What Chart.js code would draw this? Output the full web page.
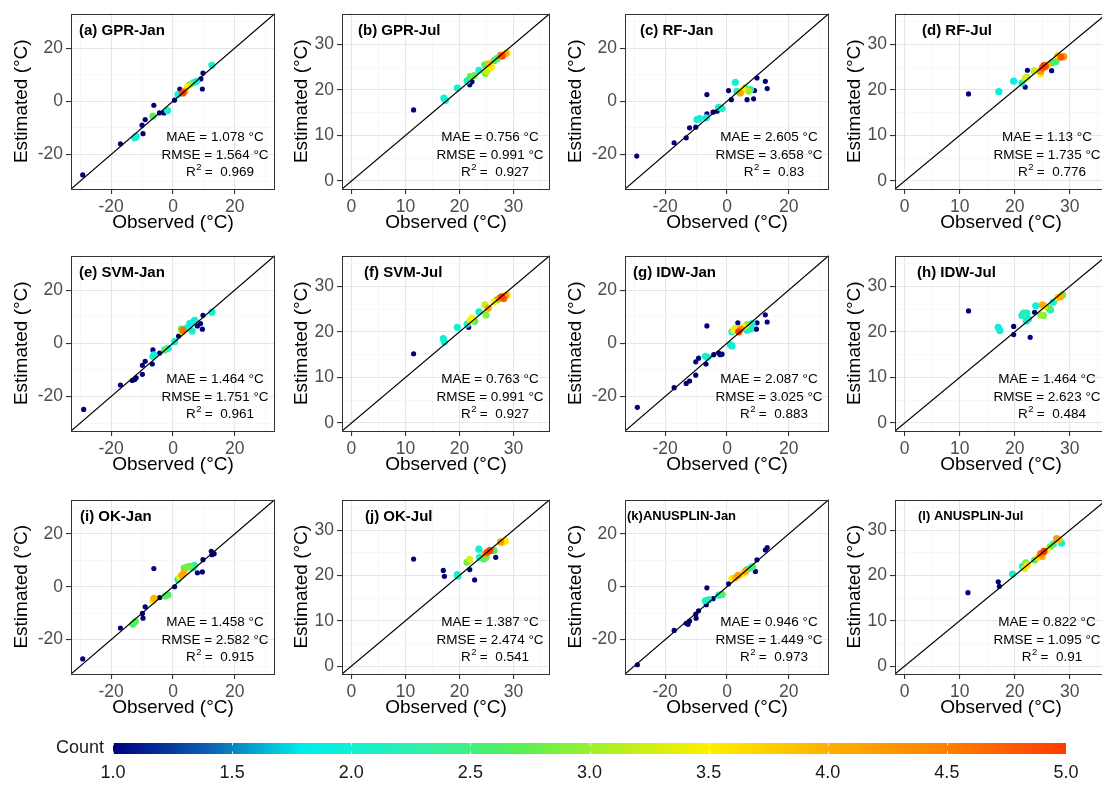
<!DOCTYPE html>
<html><head><meta charset="utf-8">
<script src="https://cdn.jsdelivr.net/npm/chart.js@4.4.1/dist/chart.umd.min.js"></script>
<style>
html,body{margin:0;padding:0;background:#fff;width:1102px;height:785px;overflow:hidden;position:relative;}
canvas{position:absolute;}
</style></head><body>
<script>
// ---------------- DATA ----------------
const panelTitles = ['(a) GPR-Jan','(b) GPR-Jul','(c) RF-Jan','(d) RF-Jul','(e) SVM-Jan','(f) SVM-Jul','(g) IDW-Jan','(h) IDW-Jul','(i) OK-Jan','(j) OK-Jul','(k)ANUSPLIN-Jan','(l) ANUSPLIN-Jul'];
const panelMonths = ['Jan','Jul','Jan','Jul','Jan','Jul','Jan','Jul','Jan','Jul','Jan','Jul'];
const maeValues  = ['1.078','0.756','2.605','1.13','1.464','0.763','2.087','1.464','1.458','1.387','0.946','0.822'];
const rmseValues = ['1.564','0.991','3.658','1.735','1.751','0.991','3.025','2.623','2.582','2.474','1.449','1.095'];
const r2Values   = ['0.969','0.927','0.83','0.776','0.961','0.927','0.883','0.484','0.915','0.541','0.973','0.91'];

const janLimits = [-33, 33];
const janMajorTicks = [-20, 0, 20];
const janMinorTicks = [-30, -10, 10, 30];
const julLimits = [-1.75, 36.75];
const julMajorTicks = [0, 10, 20, 30];
const julMinorTicks = [5, 15, 25, 35];

const countTicks = [1.0, 1.5, 2.0, 2.5, 3.0, 3.5, 4.0, 4.5, 5.0];
const countStops = [1.0, 1.4, 1.8, 2.3, 2.7, 3.1, 3.5, 4.0, 4.5, 5.0];
const countColors = ['#00007F','#0A5FB4','#00EEEE','#2EF0A8','#55F055','#B2F020','#FFEE00','#FFB000','#FF8000','#FF3A00'];

// (a) GPR-Jan
const gprJanObs = [-29.2,-17.0,-12.4,-11.9,-9.7,-10.0,-9.0,-6.2,-6.5,-4.4,-2.9,-1.8,0.5,1.6,2.2,3.2,3.8,4.6,5.4,6.5,7.6,9.0,9.7,9.5,12.6];
const gprJanEst = [-27.7,-16.0,-13.7,-13.2,-12.2,-9.0,-6.9,-1.5,-5.6,-4.4,-4.4,-3.5,0.4,2.5,4.6,3.1,3.75,5.25,6.25,6.9,7.5,8.4,10.6,4.6,13.5];
const gprJanCnt = [1,1,2.0,1.9,1,1,1,1,2.7,1,1,2.0,1,2.1,1,5.0,4.2,3.5,3.0,2.1,1.9,1,1,1,2.0];
// (b) GPR-Jul
const gprJulObs = [11.5,17.1,17.4,19.6,21.4,21.9,22.3,22.0,22.7,23.6,24.7,24.8,25.1,25.4,25.9,26.4,27.0,27.6,27.9,28.5,28.8];
const gprJulEst = [15.6,18.2,17.7,20.4,22.0,21.1,21.8,22.9,23.1,24.3,25.5,23.6,24.1,25.7,25.0,26.4,26.9,27.6,27.4,27.9,28.1];
const gprJulCnt = [1,2.0,1.9,2.0,2.1,1,1,2.7,2.8,2.0,2.7,2.9,3.2,3.9,3.5,2.7,2.6,4.3,4.9,4.1,3.6];
// (c) RF-Jan
const rfJanObs = [-29.2,-17.1,-13.2,-12.1,-10.1,-9.7,-8.9,-6.7,-6.5,-6.5,-4.5,-3.2,-2.7,-1.6,0.5,1.4,2.7,3.2,4.3,5.2,5.9,6.5,7.0,7.6,8.6,8.9,9.7,12.4,13.0];
const rfJanEst = [-20.6,-15.6,-13.75,-10.0,-9.75,-6.9,-6.5,-6.25,2.5,-4.75,-4.1,-3.75,-2.25,-2.75,4.0,0.6,7.1,3.75,3.1,4.4,5.0,0.6,3.75,4.4,0.9,4.0,8.75,7.5,4.75];
const rfJanCnt = [1,1,1,1,1,1.9,2.0,2.0,1,1,1,1,2.0,2.1,1,1,2.0,2.1,4.1,3.5,2.7,1,3.0,2.2,1,1,1,1,1];
// (d) RF-Jul
const rfJulObs = [11.6,17.1,19.8,21.3,21.9,22.2,21.9,22.3,23.5,24.7,24.7,25.0,25.3,25.6,25.9,26.7,26.7,27.5,27.8,28.4,28.9];
const rfJulEst = [19.1,19.6,21.9,21.5,22.5,22.8,20.6,24.3,24.2,23.5,24.1,24.8,25.3,25.1,25.5,25.9,24.2,26.2,27.5,27.2,27.3];
const rfJulCnt = [1,1.9,1.9,2.0,3.3,3.1,1,1,3.2,3.5,4.3,4.8,5.0,4.7,4.0,2.7,1,2.6,3.7,4.8,4.2];
// (e) SVM-Jan
const svmJanObs = [-28.9,-17.0,-13.2,-12.4,-11.9,-9.9,-9.9,-9.0,-6.5,-6.5,-6.2,-6.7,-4.3,-2.7,-1.6,0.5,1.8,2.7,3.2,3.0,4.3,5.4,6.5,7.0,6.2,7.9,8.9,9.5,9.7,12.6];
const svmJanEst = [-24.9,-15.7,-14.0,-13.6,-13.0,-11.7,-8.3,-6.8,-2.5,-4.9,-4.4,-7.8,-3.7,-2.5,-1.9,0.6,2.7,5.3,4.9,4.4,5.6,7.4,8.0,8.6,4.6,6.5,7.4,5.3,10.5,11.7];
const svmJanCnt = [1,1,1,1,1,1,1,1,1,2.0,1.9,1,1,2.6,2.0,2.0,1,2.8,4.6,3.4,2.0,1.9,2.0,1.9,2.0,1,1,1,1,2.0];
// (f) SVM-Jul
const svmJulObs = [11.5,17.0,17.2,19.6,21.4,21.7,22.0,22.3,22.8,23.6,24.7,24.9,25.3,26.4,26.9,27.3,27.8,28.2,28.5,28.8];
const svmJulEst = [15.2,18.5,17.8,21.0,21.7,21.0,22.6,23.0,22.3,24.4,25.9,23.7,25.2,26.6,27.0,27.3,27.7,27.3,27.9,28.1];
const svmJulCnt = [1,2.0,1.9,2.0,2.1,1,3.4,3.5,2.7,2.0,3.2,2.9,4.1,3.5,2.7,4.3,5.0,4.7,4.2,3.6];
// (g) IDW-Jan
const idwJanObs = [-29.0,-17.1,-13.2,-12.1,-10.1,-10.1,-9.2,-6.8,-6.5,-7.0,-6.3,-4.3,-2.7,-2.2,-1.6,1.1,1.6,1.6,2.2,2.7,3.5,3.8,4.5,5.4,6.5,6.5,7.6,8.1,9.5,9.7,12.4,13.0];
const idwJanEst = [-24.1,-16.7,-15.1,-14.2,-12.0,-7.0,-5.6,-7.8,6.5,-4.9,-5.3,-4.3,-3.7,-4.3,-4.1,-0.6,-1.0,4.3,4.9,5.6,7.7,4.3,5.3,6.2,7.0,4.9,5.3,7.4,5.3,7.7,10.7,8.0];
const idwJanCnt = [1,1,1,1,1,1,1,1,1,2.0,1.9,1,1,1,1,2.0,1.9,2.1,3.4,3.3,1,5.0,4.3,3.5,2.9,2.0,2.1,2.0,1,1,1,1];
// (h) IDW-Jul
const idwJulObs = [11.6,17.0,17.3,19.8,19.8,21.3,21.6,22.2,22.1,22.5,22.8,23.6,23.8,24.7,25.2,25.0,25.4,26.2,26.5,27.0,27.8,28.3,28.7];
const idwJulEst = [24.6,21.0,20.3,21.2,19.4,23.6,24.1,24.1,22.4,22.8,18.8,24.3,25.7,23.7,23.6,25.9,25.7,25.2,24.8,26.5,27.5,27.7,28.1];
const idwJulCnt = [1,1.9,2.0,1,1,2.1,2.2,2.1,2.0,2.0,1,1,2.0,3.0,2.9,4.0,3.6,2.7,2.1,2.0,3.7,4.0,2.8];
// (i) OK-Jan
const okJanObs = [-29.2,-17.0,-13.0,-12.2,-9.9,-9.7,-9.0,-6.2,-6.5,-6.2,-4.3,-2.5,-1.6,0.5,1.6,2.2,2.9,3.6,3.6,4.6,5.4,6.5,7.0,7.9,9.5,9.7,12.4,12.6,13.3];
const okJanEst = [-27.3,-15.6,-14.1,-13.1,-10.1,-11.9,-7.6,6.9,-5.4,-4.4,-4.1,-3.5,-3.1,0.0,2.75,3.6,4.4,5.25,7.1,7.4,7.75,7.1,8.1,5.25,5.6,10.25,13.4,12.1,12.5];
const okJanCnt = [1,1,2.6,2.7,1,1,1,1,3.5,4.0,1,2.7,2.6,1,2.1,3.5,4.1,4.0,2.8,2.7,2.8,2.1,2.2,1,1,1,1,1,1];
// (j) OK-Jul
const okJulObs = [11.5,17.0,17.2,19.6,19.7,21.4,21.9,21.9,22.8,23.6,23.7,24.5,24.9,24.7,25.1,25.6,26.4,26.7,27.6,28.0,28.5];
const okJulEst = [23.6,21.1,19.8,20.2,19.8,22.9,21.3,23.5,19.0,25.8,24.0,23.6,24.0,24.7,25.1,25.5,25.5,24.0,27.4,27.3,27.6];
const okJulCnt = [1,1,1,2.0,2.1,2.8,1,3.3,1,2.0,2.1,2.7,2.8,4.1,4.8,5.0,2.7,1,4.2,3.6,3.5];
// (k) ANUSPLIN-Jan
const anuJanObs = [-29.0,-17.1,-13.2,-12.6,-12.1,-10.1,-10.0,-9.2,-6.7,-6.5,-7.0,-5.9,-4.5,-2.7,-1.6,0.5,1.6,2.7,3.6,4.9,5.9,6.5,7.6,8.2,9.2,9.7,12.4,13.0];
const anuJanEst = [-29.5,-16.5,-13.8,-14.2,-13.0,-10.3,-11.9,-9.1,-6.8,-0.4,-5.3,-5.0,-4.5,-3.2,-2.9,1.1,3.1,3.4,4.3,4.8,5.8,6.5,7.1,7.6,5.8,10.2,13.9,14.8];
const anuJanCnt = [1,1,1,1,1,1,1,1,1,1,2.0,2.1,1,2.1,2.6,1,3.5,4.0,4.2,3.6,4.0,2.1,2.0,2.6,1,1,1,1];
// (l) ANUSPLIN-Jul
const anuJulObs = [11.5,17.0,17.2,19.6,21.4,21.8,22.0,22.3,23.6,24.2,24.7,25.0,25.3,25.8,26.4,27.0,27.6,28.0,28.5];
const anuJulEst = [16.2,18.6,17.6,20.3,22.0,21.5,22.8,22.3,23.4,24.0,24.8,24.2,25.3,25.6,26.3,26.9,28.1,27.9,27.1];
const anuJulCnt = [1,1,1,2.0,2.1,3.4,2.8,3.6,2.6,3.7,4.6,4.0,5.0,3.5,2.8,2.5,4.2,3.8,2.0];

const panelObs = [gprJanObs,gprJulObs,rfJanObs,rfJulObs,svmJanObs,svmJulObs,idwJanObs,idwJulObs,okJanObs,okJulObs,anuJanObs,anuJulObs];
const panelEst = [gprJanEst,gprJulEst,rfJanEst,rfJulEst,svmJanEst,svmJulEst,idwJanEst,idwJulEst,okJanEst,okJulEst,anuJanEst,anuJulEst];
const panelCnt = [gprJanCnt,gprJulCnt,rfJanCnt,rfJulCnt,svmJanCnt,svmJulCnt,idwJanCnt,idwJulCnt,okJanCnt,okJulCnt,anuJanCnt,anuJulCnt];

// ---------------- LAYOUT / STYLE ----------------
const FONT = "'Liberation Sans', Arial, Helvetica, sans-serif";
Chart.defaults.font.family = FONT;
const colLeft = [71, 342, 625, 895], colWidth = [204, 208, 204, 212];
const rowTop = [12, 254, 498], rowHeight = [177, 177, 176];
const PAD_L = 72, PAD_T = 12, PAD_R = 4, PAD_B = 50;
const titleDx = [8, 16, 15, 27, 8, 22, 8, 22, 9, 23, 2, 23];
const titleSize = [15, 15, 15, 15, 15, 15, 15, 15, 15, 15, 13, 13];

function hexToRgb(h){ return [parseInt(h.slice(1,3),16),parseInt(h.slice(3,5),16),parseInt(h.slice(5,7),16)]; }
function countColor(c){
  if (c <= countStops[0]) return countColors[0];
  for (let k = 1; k < countStops.length; k++) {
    if (c <= countStops[k]) {
      const t = (c - countStops[k-1]) / (countStops[k] - countStops[k-1]);
      const a = hexToRgb(countColors[k-1]), b = hexToRgb(countColors[k]);
      return `rgb(${Math.round(a[0]+(b[0]-a[0])*t)},${Math.round(a[1]+(b[1]-a[1])*t)},${Math.round(a[2]+(b[2]-a[2])*t)})`;
    }
  }
  return countColors[countColors.length-1];
}

function axisCfg(month, horizontal, titleText) {
  const lim = month === 'Jan' ? janLimits : julLimits;
  const major = month === 'Jan' ? janMajorTicks : julMajorTicks;
  const minor = month === 'Jan' ? janMinorTicks : julMinorTicks;
  const all = major.concat(minor).sort((a,b)=>a-b);
  const isMinor = v => minor.includes(v);
  return {
    type: 'linear', min: lim[0], max: lim[1],
    afterBuildTicks: s => { s.ticks = all.map(v => ({ value: v })); },
    afterFit: s => { if (horizontal) s.height = PAD_B; else s.width = PAD_L; },
    ticks: {
      autoSkip: false, maxRotation: 0, minRotation: 0, padding: 3,
      color: '#4D4D4D', font: { size: 17.5 },
      callback: v => isMinor(v) ? '' : String(v)
    },
    grid: {
      color: c => (c.tick && isMinor(c.tick.value)) ? '#F3F3F3' : '#E6E6E6',
      lineWidth: c => (c.tick && isMinor(c.tick.value)) ? 0.7 : 1.1,
      tickColor: c => (c.tick && isMinor(c.tick.value)) ? 'rgba(0,0,0,0)' : '#333333',
      tickLength: 5, drawTicks: true
    },
    border: { display: false },
    title: {
      display: true, text: titleText, color: '#000', font: { size: 19 },
      padding: horizontal ? { top: 0, bottom: 5 } : { top: month === 'Jan' ? 11.6 : 20.6, bottom: 0 }
    }
  };
}

function makePanel(i) {
  const col = i % 4, row = Math.floor(i / 4);
  const w = PAD_L + colWidth[col] + PAD_R, h = PAD_T + rowHeight[row] + PAD_B;
  const cv = document.createElement('canvas');
  cv.width = w; cv.height = h;
  cv.style.width = w + 'px'; cv.style.height = h + 'px';
  cv.style.left = (colLeft[col] - PAD_L) + 'px';
  cv.style.top = (rowTop[row] - PAD_T) + 'px';
  document.body.appendChild(cv);

  const month = panelMonths[i];
  const lim = month === 'Jan' ? janLimits : julLimits;
  const obs = panelObs[i], est = panelEst[i], cnt = panelCnt[i];
  const pts = obs.map((x, k) => ({ x: x, y: est[k], c: cnt[k] })).sort((a, b) => a.c - b.c);

  const deco = {
    id: 'deco' + i,
    afterDraw(chart) {
      const a = chart.chartArea, ctx = chart.ctx;
      ctx.save();
      ctx.strokeStyle = '#333333'; ctx.lineWidth = 1;
      ctx.strokeRect(Math.round(a.left) + 0.5, Math.round(a.top) + 0.5, Math.round(a.right - a.left) - 1, Math.round(a.bottom - a.top) - 1);
      // panel title
      ctx.fillStyle = '#000';
      ctx.font = `bold ${titleSize[i]}px ${FONT}`;
      ctx.textAlign = 'left'; ctx.textBaseline = 'middle';
      ctx.fillText(panelTitles[i], a.left + titleDx[i], a.top + 17);
      // stats
      ctx.font = `13.5px ${FONT}`;
      ctx.textAlign = 'center';
      ctx.fillText(`MAE = ${maeValues[i]} °C`, a.right - 60, a.bottom - 52);
      ctx.fillText(`RMSE = ${rmseValues[i]} °C`, a.right - 60, a.bottom - 34);
      const y3 = a.bottom - 16.5;
      const rW = ctx.measureText('R').width;
      ctx.font = `9.5px ${FONT}`;
      const sW = ctx.measureText('2').width;
      ctx.font = `13.5px ${FONT}`;
      const rest = ' =  ' + r2Values[i];
      const restW = ctx.measureText(rest).width;
      let x0 = a.right - 55 - (rW + sW + restW) / 2;
      ctx.textAlign = 'left';
      ctx.fillText('R', x0, y3);
      ctx.font = `9.5px ${FONT}`;
      ctx.fillText('2', x0 + rW + 0.5, y3 - 5);
      ctx.font = `13.5px ${FONT}`;
      ctx.fillText(rest, x0 + rW + sW, y3);
      ctx.restore();
    }
  };

  new Chart(cv, {
    type: 'scatter',
    data: {
      datasets: [
        {
          type: 'line', order: 0,
          data: [{ x: lim[0], y: lim[0] }, { x: lim[1], y: lim[1] }],
          borderColor: '#000', borderWidth: 1.2, pointRadius: 0, fill: false
        },
        {
          type: 'scatter', order: 1,
          data: pts.map(p => ({ x: p.x, y: p.y })),
          pointBackgroundColor: pts.map(p => countColor(p.c)),
          pointBorderWidth: 0,
          pointRadius: pts.map(p => p.c < 1.5 ? 2.6 : 3.6)
        }
      ]
    },
    options: {
      responsive: false, animation: false, devicePixelRatio: 1, events: [],
      layout: { padding: { left: 0, top: PAD_T, right: PAD_R, bottom: 0 }, autoPadding: false },
      plugins: { legend: { display: false }, tooltip: { enabled: false } },
      scales: {
        x: Object.assign({ position: 'bottom' }, axisCfg(month, true, 'Observed (°C)')),
        y: Object.assign({ position: 'left' }, axisCfg(month, false, 'Estimated (°C)'))
      }
    },
    plugins: [deco]
  });
}

for (let i = 0; i < 12; i++) makePanel(i);

// ---------------- COLOR BAR ----------------
(function () {
  const cv = document.createElement('canvas');
  const W = 1102, H = 55, TOP = 730;
  cv.width = W; cv.height = H; cv.style.width = W + 'px'; cv.style.height = H + 'px';
  cv.style.left = '0px'; cv.style.top = TOP + 'px';
  document.body.appendChild(cv);
  const barLeft = 113, barRight = 1066, barTop = 743 - TOP, barBottom = 754 - TOP;
  const grad = {
    id: 'cbar',
    beforeDatasetsDraw(chart) {
      const a = chart.chartArea, ctx = chart.ctx, sx = chart.scales.x;
      ctx.save();
      const g = ctx.createLinearGradient(a.left, 0, a.right, 0);
      countStops.forEach((v, k) => g.addColorStop((v - countTicks[0]) / (countTicks[countTicks.length - 1] - countTicks[0]), countColors[k]));
      ctx.fillStyle = g;
      ctx.fillRect(a.left, a.top, a.right - a.left, a.bottom - a.top);
      ctx.strokeStyle = 'rgba(255,255,255,0.8)'; ctx.lineWidth = 1;
      countTicks.forEach(v => {
        const px = Math.round(sx.getPixelForValue(v)) + 0.5;
        ctx.beginPath(); ctx.moveTo(px, a.top); ctx.lineTo(px, a.top + 2.5);
        ctx.moveTo(px, a.bottom - 2.5); ctx.lineTo(px, a.bottom); ctx.stroke();
      });
      ctx.fillStyle = '#1A1A1A';
      ctx.font = `18px ${FONT}`;
      ctx.textAlign = 'right'; ctx.textBaseline = 'middle';
      ctx.fillText('Count', a.left - 9, (a.top + a.bottom) / 2);
      ctx.restore();
    }
  };
  new Chart(cv, {
    type: 'scatter',
    data: { datasets: [{ data: [] }] },
    options: {
      responsive: false, animation: false, devicePixelRatio: 1, events: [],
      layout: { padding: { left: barLeft, right: W - barRight, top: barTop, bottom: 0 }, autoPadding: false },
      plugins: { legend: { display: false }, tooltip: { enabled: false } },
      scales: {
        x: {
          type: 'linear', min: countTicks[0], max: countTicks[countTicks.length - 1],
          afterBuildTicks: s => { s.ticks = countTicks.map(v => ({ value: v })); },
          afterFit: s => { s.height = H - barBottom; },
          ticks: { autoSkip: false, maxRotation: 0, padding: 8, color: '#1A1A1A', font: { size: 18 }, callback: v => Number(v).toFixed(1) },
          grid: { display: false, drawTicks: false },
          border: { display: false }
        },
        y: { display: false, min: 0, max: 1 }
      }
    },
    plugins: [grad]
  });
})();
</script>
</body></html>
